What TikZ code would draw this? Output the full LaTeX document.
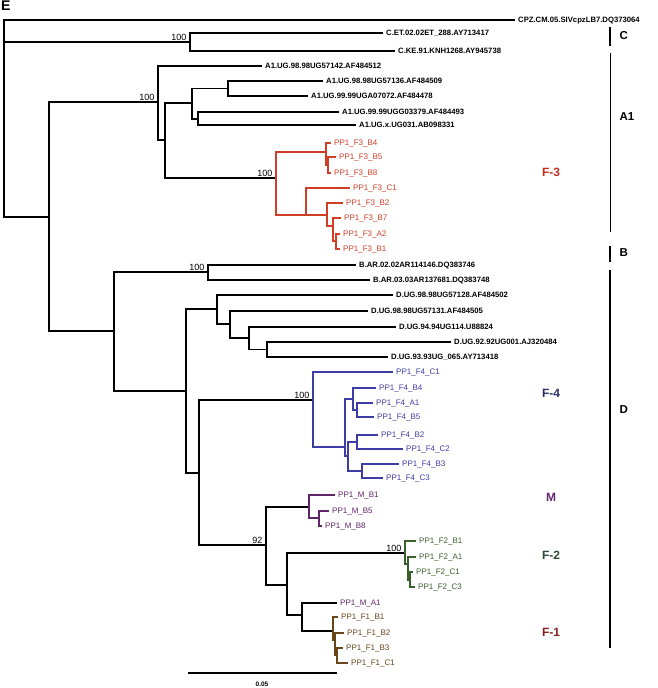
\documentclass[tikz,border=0pt]{standalone}
\usepackage{fontspec}
\setmainfont{Liberation Sans}
\definecolor{fthree}{RGB}{208,62,38}
\definecolor{ffour}{RGB}{62,60,165}
\definecolor{mgrp}{RGB}{96,36,104}
\definecolor{ftwo}{RGB}{58,96,42}
\definecolor{fone}{RGB}{104,70,26}
\definecolor{lthree}{RGB}{196,44,30}
\definecolor{lfour}{RGB}{44,44,106}
\definecolor{lm}{RGB}{100,40,110}
\definecolor{ltwo}{RGB}{40,72,52}
\definecolor{lone}{RGB}{134,32,32}

\begin{document}
\begin{tikzpicture}[
        x=1pt, y=-1pt,
        every node/.style={font=\fontsize{7.7}{8}\selectfont\bfseries},
        br/.style={draw, line width=1.8pt},
        cbr/.style={draw=#1, line width=1.4pt},
        leaf/.style={
            anchor=west,
            inner xsep=3pt,
            inner ysep=0pt,
            text height=5.5pt,
            text depth=0pt
        },
        pp/.style={
            anchor=west,
            inner xsep=3pt,
            inner ysep=0pt,
            text height=5.7pt,
            text depth=0pt,
            text=#1,
            font=\fontsize{8}{9}\selectfont
        },
        boot/.style={anchor=south east, inner sep=1.5pt, font=\fontsize{9}{10}\selectfont},
        grp/.style={text=#1, font=\fontsize{12}{13}\selectfont\bfseries},
        clade/.style={anchor=west, font=\fontsize{11.5}{12}\selectfont\bfseries}
    ]
    \useasboundingbox (0,0) rectangle (657,688);
    \node[anchor=north west, inner sep=1pt, font=\fontsize{14}{15}\selectfont\bfseries] (panel) at (0,0) {E};

    % Root and outgroup
    \coordinate (root) at (4,118);
    \node[leaf] (cpz) at (515,20) {CPZ.CM.05.SIVcpzLB7.DQ373064};
    \draw[br] (root) |- (cpz.west);

    % Subtype C
    \coordinate (c0) at (190,42);
    \node[leaf] (cet) at (383,33) {C.ET.02.02ET\_288.AY713417};
    \node[leaf] (cke) at (395,51) {C.KE.91.KNH1268.AY945738};
    \node[boot] (bc0) at ([xshift=-2pt]c0) {100};
    \draw[br] (root) |- (c0);
    \draw[br] (c0) |- (cet.west);
    \draw[br] (c0) |- (cke.west);

    % A1 branch
    \coordinate (ab) at (49,217);
    \draw[br] (root) |- (ab);
    \coordinate (a1x) at (158,102);
    \coordinate (a1y) at (165,140);
    \coordinate (a1z) at (192,103);
    \coordinate (a1v) at (228,88.5);
    \coordinate (a1w) at (198,119);
    \node[boot] (ba1) at ([xshift=-2pt]a1x) {100};
    \node[leaf] (a57142) at (262,66) {A1.UG.98.98UG57142.AF484512};
    \node[leaf] (a57136) at (323,81) {A1.UG.98.98UG57136.AF484509};
    \node[leaf] (a07072) at (308,96) {A1.UG.99.99UGA07072.AF484478};
    \node[leaf] (a03379) at (339,112) {A1.UG.99.99UGG03379.AF484493};
    \node[leaf] (aug031) at (356,125) {A1.UG.x.UG031.AB098331};
    \draw[br] (ab) |- (a1x);
    \draw[br] (a1x) |- (a57142.west);
    \draw[br] (a1x) |- (a1y);
    \draw[br] (a1y) |- (a1z);
    \draw[br] (a1z) |- (a1v);
    \draw[br] (a1v) |- (a57136.west);
    \draw[br] (a1v) |- (a07072.west);
    \draw[br] (a1z) |- (a1w);
    \draw[br] (a1w) |- (a03379.west);
    \draw[br] (a1w) |- (aug031.west);

    % F-3 patient sequences
    \coordinate (f3r) at (276,178);
    \coordinate (f3a) at (326,152);
    \coordinate (f3b) at (328,165);
    \coordinate (f3c) at (306,215);
    \coordinate (f3d) at (327,215);
    \coordinate (f3e) at (333,226);
    \coordinate (f3f) at (336,241);
    \node[boot] (bf3) at ([xshift=-2pt]f3r) {100};
    \node[pp=fthree] (f3b4) at (331,143) {PP1\_F3\_B4};
    \node[pp=fthree] (f3b5) at (336,157) {PP1\_F3\_B5};
    \node[pp=fthree] (f3b8) at (331,173) {PP1\_F3\_B8};
    \node[pp=fthree] (f3c1) at (350,188) {PP1\_F3\_C1};
    \node[pp=fthree] (f3b2) at (343,203) {PP1\_F3\_B2};
    \node[pp=fthree] (f3b7) at (341,218) {PP1\_F3\_B7};
    \node[pp=fthree] (f3a2) at (340,234) {PP1\_F3\_A2};
    \node[pp=fthree] (f3b1) at (340,249) {PP1\_F3\_B1};
    \draw[br] (a1y) |- (f3r);
    \draw[cbr=fthree] (f3r) |- (f3a);
    \draw[cbr=fthree] (f3a) |- (f3b4.west);
    \draw[cbr=fthree] (f3a) |- (f3b);
    \draw[cbr=fthree] (f3b) |- (f3b5.west);
    \draw[cbr=fthree] (f3b) |- (f3b8.west);
    \draw[cbr=fthree] (f3r) |- (f3c);
    \draw[cbr=fthree] (f3c) |- (f3c1.west);
    \draw[cbr=fthree] (f3c) |- (f3d);
    \draw[cbr=fthree] (f3d) |- (f3b2.west);
    \draw[cbr=fthree] (f3d) |- (f3e);
    \draw[cbr=fthree] (f3e) |- (f3b7.west);
    \draw[cbr=fthree] (f3e) |- (f3f);
    \draw[cbr=fthree] (f3f) |- (f3a2.west);
    \draw[cbr=fthree] (f3f) |- (f3b1.west);

    % Subtype B
    \coordinate (bd) at (114,331);
    \coordinate (bn) at (208,272);
    \node[boot] (bbn) at ([xshift=-2pt]bn) {100};
    \node[leaf] (bar02) at (356,265) {B.AR.02.02AR114146.DQ383746};
    \node[leaf] (bar03) at (370,280) {B.AR.03.03AR137681.DQ383748};
    \draw[br] (ab) |- (bd);
    \draw[br] (bd) |- (bn);
    \draw[br] (bn) |- (bar02.west);
    \draw[br] (bn) |- (bar03.west);

    % Subtype D references
    \coordinate (dn) at (186,391);
    \coordinate (dt) at (217,309);
    \coordinate (du) at (230,324);
    \coordinate (dv) at (249,338);
    \coordinate (dw) at (267,349.5);
    \node[leaf] (d57128) at (393,295) {D.UG.98.98UG57128.AF484502};
    \node[leaf] (d57131) at (368,311) {D.UG.98.98UG57131.AF484505};
    \node[leaf] (d94) at (396,327) {D.UG.94.94UG114.U88824};
    \node[leaf] (d92) at (451,342) {D.UG.92.92UG001.AJ320484};
    \node[leaf] (d93) at (388,357) {D.UG.93.93UG\_065.AY713418};
    \draw[br] (bd) |- (dn);
    \draw[br] (dn) |- (dt);
    \draw[br] (dt) |- (d57128.west);
    \draw[br] (dt) |- (du);
    \draw[br] (du) |- (d57131.west);
    \draw[br] (du) |- (dv);
    \draw[br] (dv) |- (d94.west);
    \draw[br] (dv) |- (dw);
    \draw[br] (dw) |- (d92.west);
    \draw[br] (dw) |- (d93.west);

    % F-4 patient sequences
    \coordinate (dl) at (199,473);
    \coordinate (f4r) at (313,400);
    \coordinate (f4a) at (345,447);
    \coordinate (f4b) at (353,399);
    \coordinate (f4c) at (357,410);
    \coordinate (f4d) at (348,456);
    \coordinate (f4e) at (357,442);
    \coordinate (f4f) at (362,471);
    \node[boot] (bf4) at ([xshift=-2pt]f4r) {100};
    \node[pp=ffour] (f4c1) at (393,372) {PP1\_F4\_C1};
    \node[pp=ffour] (f4b4) at (376,388) {PP1\_F4\_B4};
    \node[pp=ffour] (f4a1) at (373,403) {PP1\_F4\_A1};
    \node[pp=ffour] (f4b5) at (374,417) {PP1\_F4\_B5};
    \node[pp=ffour] (f4b2) at (378,435) {PP1\_F4\_B2};
    \node[pp=ffour] (f4c2) at (403,449) {PP1\_F4\_C2};
    \node[pp=ffour] (f4b3) at (399,464) {PP1\_F4\_B3};
    \node[pp=ffour] (f4c3) at (383,478) {PP1\_F4\_C3};
    \draw[br] (dn) |- (dl);
    \draw[br] (dl) |- (f4r);
    \draw[cbr=ffour] (f4r) |- (f4c1.west);
    \draw[cbr=ffour] (f4r) |- (f4a);
    \draw[cbr=ffour] (f4a) |- (f4b);
    \draw[cbr=ffour] (f4b) |- (f4b4.west);
    \draw[cbr=ffour] (f4b) |- (f4c);
    \draw[cbr=ffour] (f4c) |- (f4a1.west);
    \draw[cbr=ffour] (f4c) |- (f4b5.west);
    \draw[cbr=ffour] (f4a) |- (f4d);
    \draw[cbr=ffour] (f4d) |- (f4e);
    \draw[cbr=ffour] (f4e) |- (f4b2.west);
    \draw[cbr=ffour] (f4e) |- (f4c2.west);
    \draw[cbr=ffour] (f4d) |- (f4f);
    \draw[cbr=ffour] (f4f) |- (f4b3.west);
    \draw[cbr=ffour] (f4f) |- (f4c3.west);

    % M patient sequences
    \coordinate (mf) at (266,545);
    \coordinate (mr) at (309,507);
    \coordinate (ms) at (319,518);
    \node[boot] (bmf) at ([xshift=-2pt]mf) {92};
    \node[pp=mgrp] (mb1) at (335,495) {PP1\_M\_B1};
    \node[pp=mgrp] (mb5) at (329,511) {PP1\_M\_B5};
    \node[pp=mgrp] (mb8) at (322,526) {PP1\_M\_B8};
    \draw[br] (dl) |- (mf);
    \draw[br] (mf) |- (mr);
    \draw[cbr=mgrp] (mr) |- (mb1.west);
    \draw[cbr=mgrp] (mr) |- (ms);
    \draw[cbr=mgrp] (ms) |- (mb5.west);
    \draw[cbr=mgrp] (ms) |- (mb8.west);

    % F-2 patient sequences
    \coordinate (mfa) at (287,585);
    \coordinate (f2r) at (405,553);
    \coordinate (f2a) at (408,564);
    \coordinate (f2b) at (410,580);
    \node[boot] (bf2) at ([xshift=-2pt]f2r) {100};
    \node[pp=ftwo] (f2b1) at (416,541) {PP1\_F2\_B1};
    \node[pp=ftwo] (f2a1) at (416,557) {PP1\_F2\_A1};
    \node[pp=ftwo] (f2c1) at (413,572) {PP1\_F2\_C1};
    \node[pp=ftwo] (f2c3) at (415,587) {PP1\_F2\_C3};
    \draw[br] (mf) |- (mfa);
    \draw[br] (mfa) |- (f2r);
    \draw[cbr=ftwo] (f2r) |- (f2b1.west);
    \draw[cbr=ftwo] (f2r) |- (f2a);
    \draw[cbr=ftwo] (f2a) |- (f2a1.west);
    \draw[cbr=ftwo] (f2a) |- (f2b);
    \draw[cbr=ftwo] (f2b) |- (f2c1.west);
    \draw[cbr=ftwo] (f2b) |- (f2c3.west);

    % M_A1 and F-1 patient sequences
    \coordinate (mfb) at (302,615);
    \coordinate (f1r) at (333,631);
    \coordinate (f1a) at (335,640);
    \coordinate (f1b) at (337,655);
    \node[pp=mgrp] (ma1) at (337,603) {PP1\_M\_A1};
    \node[pp=fone] (f1b1) at (338,617) {PP1\_F1\_B1};
    \node[pp=fone] (f1b2) at (344,633) {PP1\_F1\_B2};
    \node[pp=fone] (f1b3) at (343,648) {PP1\_F1\_B3};
    \node[pp=fone] (f1c1) at (348,663) {PP1\_F1\_C1};
    \draw[br] (mfa) |- (mfb);
    \draw[br] (mfb) |- (ma1.west);
    \draw[br] (mfb) |- (f1r);
    \draw[cbr=fone] (f1r) |- (f1b1.west);
    \draw[cbr=fone] (f1r) |- (f1a);
    \draw[cbr=fone] (f1a) |- (f1b2.west);
    \draw[cbr=fone] (f1a) |- (f1b);
    \draw[cbr=fone] (f1b) |- (f1b3.west);
    \draw[cbr=fone] (f1b) |- (f1c1.west);

    % Group labels
    \node[grp=lthree] (gf3) at (551,172) {F-3};
    \node[grp=lfour] (gf4) at (551,393) {F-4};
    \node[grp=lm] (gm) at (551,497) {M};
    \node[grp=ltwo] (gf2) at (551,555) {F-2};
    \node[grp=lone] (gf1) at (551,632) {F-1};

    % Subtype brackets
    \coordinate (kc1) at (610,27);
    \coordinate (kc2) at (610,46);
    \coordinate (ka1) at (610,53);
    \coordinate (ka2) at (610,232);
    \coordinate (kb1) at (610,246);
    \coordinate (kb2) at (610,262);
    \coordinate (kd1) at (610,270);
    \coordinate (kd2) at (610,648);
    \draw[line width=1.8pt] (kc1) -- (kc2);
    \draw[line width=1pt] (ka1) -- (ka2);
    \draw[line width=1.8pt] (kb1) -- (kb2);
    \draw[line width=2pt] (kd1) -- (kd2);
    \node[clade] (lc) at (616,36) {C};
    \node[clade] (la1) at (616,117) {A1};
    \node[clade] (lb) at (616,253) {B};
    \node[clade] (ld) at (616,410) {D};

    % Scale bar
    \coordinate (sbl) at (188,673);
    \coordinate (sbr) at (337,673);
    \draw[br] (sbl) -- (sbr);
    \node[font=\fontsize{6.5}{7}\selectfont\bfseries] (sbt) at (262,684) {0.05};

\end{tikzpicture}
\end{document}
